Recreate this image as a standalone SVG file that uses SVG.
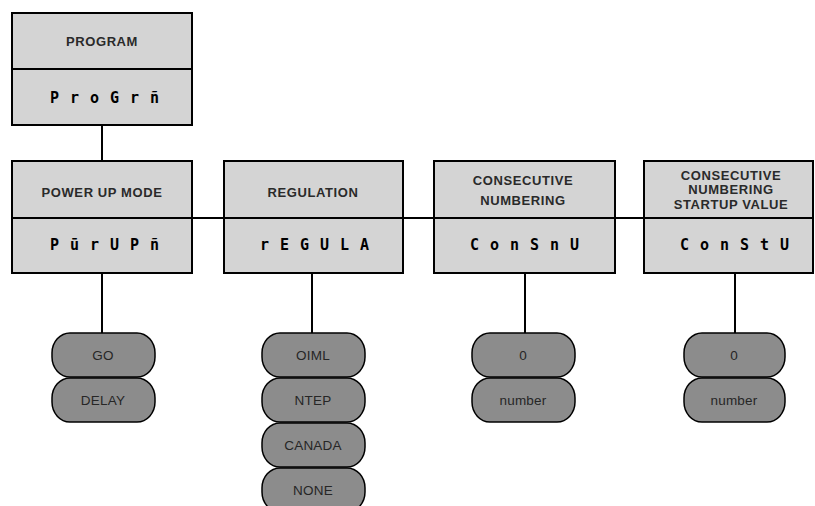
<svg xmlns="http://www.w3.org/2000/svg" width="815" height="506" viewBox="0 0 815 506">
  <style>
    .box { fill: #d4d4d4; stroke: #000; stroke-width: 2; }
    .pill { fill: #8c8c8c; stroke: #000; stroke-width: 1.5; }
    .wire { fill: none; stroke: #000; stroke-width: 2; }
    .hdr { font-family: "Liberation Sans", Arial, sans-serif; font-size: 13px; font-weight: bold; fill: #2a2a2a; text-anchor: middle; letter-spacing: 0.6px; }
    .disp { font-family: "DejaVu Sans Mono", "Liberation Mono", monospace; font-size: 15px; font-weight: bold; fill: #000; text-anchor: middle; letter-spacing: 11px; }
    .opt { font-family: "Liberation Sans", Arial, sans-serif; font-size: 13.5px; fill: #262626; text-anchor: middle; letter-spacing: 0.2px; }
  </style>

  <!-- connectors -->
  <g id="connectors">
    <line class="wire" x1="102" y1="125" x2="102" y2="161"/>
    <line class="wire" x1="192" y1="218" x2="224" y2="218"/>
    <line class="wire" x1="403" y1="218" x2="434" y2="218"/>
    <line class="wire" x1="615" y1="218" x2="644" y2="218"/>
    <line class="wire" x1="102" y1="273" x2="102" y2="333"/>
    <line class="wire" x1="312" y1="273" x2="312" y2="333"/>
    <line class="wire" x1="525" y1="273" x2="525" y2="333"/>
    <line class="wire" x1="735" y1="273" x2="735" y2="333"/>
  </g>

  <!-- menu boxes -->
  <g id="program">
    <rect class="box" x="12" y="13" width="180" height="56"/>
    <rect class="box" x="12" y="69" width="180" height="56"/>
    <text class="hdr" x="102" y="46">PROGRAM</text>
    <text class="disp" x="110" y="103">ProGrñ</text>
  </g>

  <g id="power-up-mode">
    <rect class="box" x="12" y="161" width="180" height="57"/>
    <rect class="box" x="12" y="218" width="180" height="55"/>
    <text class="hdr" x="102" y="197">POWER UP MODE</text>
    <text class="disp" x="110" y="250">PūrUPñ</text>
  </g>

  <g id="regulation">
    <rect class="box" x="224" y="161" width="179" height="57"/>
    <rect class="box" x="224" y="218" width="179" height="55"/>
    <text class="hdr" x="313" y="197">REGULATION</text>
    <text class="disp" x="320" y="250">rEGULA</text>
  </g>

  <g id="consecutive-numbering">
    <rect class="box" x="434" y="161" width="181" height="57"/>
    <rect class="box" x="434" y="218" width="181" height="55"/>
    <text class="hdr" x="523" y="185">CONSECUTIVE</text>
    <text class="hdr" x="523" y="205">NUMBERING</text>
    <text class="disp" x="530" y="250">ConSnU</text>
  </g>

  <g id="consecutive-startup">
    <rect class="box" x="644" y="161" width="169" height="57"/>
    <rect class="box" x="644" y="218" width="169" height="55"/>
    <text class="hdr" x="731" y="180">CONSECUTIVE</text>
    <text class="hdr" x="731" y="194">NUMBERING</text>
    <text class="hdr" x="731" y="209">STARTUP VALUE</text>
    <text class="disp" x="740" y="250">ConStU</text>
  </g>

  <!-- option pills -->
  <g id="opt-go">
    <rect class="pill" x="52" y="333" width="103" height="44" rx="18" ry="20"/>
    <text class="opt" x="103" y="360">GO</text>
  </g>
  <g id="opt-delay">
    <rect class="pill" x="52" y="378" width="103" height="44" rx="18" ry="20"/>
    <text class="opt" x="103" y="405">DELAY</text>
  </g>

  <g id="opt-oiml">
    <rect class="pill" x="262" y="333" width="103" height="44" rx="18" ry="20"/>
    <text class="opt" x="313" y="360">OIML</text>
  </g>
  <g id="opt-ntep">
    <rect class="pill" x="262" y="378" width="103" height="44" rx="18" ry="20"/>
    <text class="opt" x="313" y="405">NTEP</text>
  </g>
  <g id="opt-canada">
    <rect class="pill" x="262" y="423" width="103" height="44" rx="18" ry="20"/>
    <text class="opt" x="313" y="450">CANADA</text>
  </g>
  <g id="opt-none">
    <rect class="pill" x="262" y="468" width="103" height="44" rx="18" ry="20"/>
    <text class="opt" x="313" y="495">NONE</text>
  </g>

  <g id="opt-cn-zero">
    <rect class="pill" x="472" y="333" width="103" height="44" rx="18" ry="20"/>
    <text class="opt" x="523" y="360">0</text>
  </g>
  <g id="opt-cn-number">
    <rect class="pill" x="472" y="378" width="103" height="44" rx="18" ry="20"/>
    <text class="opt" x="523" y="405">number</text>
  </g>

  <g id="opt-cs-zero">
    <rect class="pill" x="684" y="333" width="101" height="44" rx="18" ry="20"/>
    <text class="opt" x="734" y="360">0</text>
  </g>
  <g id="opt-cs-number">
    <rect class="pill" x="684" y="378" width="101" height="44" rx="18" ry="20"/>
    <text class="opt" x="734" y="405">number</text>
  </g>
</svg>
